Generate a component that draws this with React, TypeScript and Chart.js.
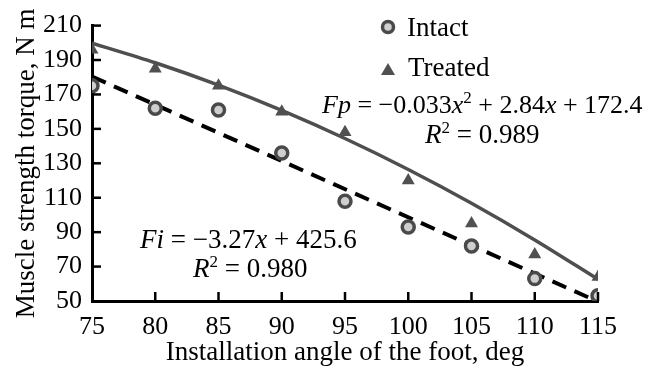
import React, { useEffect, useRef } from "react";
import { Chart, registerables } from "chart.js";
Chart.register(...registerables);

const angles = [75, 80, 85, 90, 95, 100, 105, 110, 115];
const intact = [175, 162, 161, 136, 108, 93, 82, 63, 53];
const treated = [196, 185, 175, 160, 148, 120, 95, 77, 64];
// trend lines
const intactTrendX = [75, 115];
const intactTrend = [180.4, 49.6];
const treatedTrend = [199.8, 188.4, 175.4, 160.7, 144.4, 126.4, 106.8, 85.5, 62.6];
const yTicks = [50, 70, 90, 110, 130, 150, 170, 190, 210];

const FONT = "'Liberation Serif', 'Times New Roman', serif";
const FS = 27;
const TICK_FS = 26;

type Seg = { t: string; i?: boolean; sup?: boolean };

function drawRich(ctx: CanvasRenderingContext2D, segs: Seg[], x: number, y: number, fs: number) {
  let cx = x;
  ctx.textBaseline = "alphabetic";
  ctx.textAlign = "left";
  for (const s of segs) {
    const size = s.sup ? Math.round(fs * 0.64) : fs;
    ctx.font = `${s.i ? "italic " : ""}${size}px ${FONT}`;
    const yy = s.sup ? y - fs * 0.38 : y;
    ctx.fillText(s.t, cx, yy);
    cx += ctx.measureText(s.t).width;
  }
}

const overlay = {
  id: "overlay",
  afterDraw(chart: any) {
    const ctx: CanvasRenderingContext2D = chart.ctx;
    const xs = chart.scales.x;
    const ys = chart.scales.y;
    const area = chart.chartArea;
    ctx.save();
    ctx.strokeStyle = "#000";
    ctx.lineWidth = 2.5;
    // inward ticks
    for (const v of angles) {
      if (v === 75) continue;
      const px = xs.getPixelForValue(v);
      ctx.beginPath();
      ctx.moveTo(px, area.bottom);
      ctx.lineTo(px, area.bottom - 9);
      ctx.stroke();
    }
    for (const v of yTicks) {
      if (v === 50) continue;
      const py = ys.getPixelForValue(v);
      ctx.beginPath();
      ctx.moveTo(area.left, py);
      ctx.lineTo(area.left + 9, py);
      ctx.stroke();
    }
    // legend
    ctx.beginPath();
    ctx.arc(388, 27, 5.5, 0, Math.PI * 2);
    ctx.fillStyle = "#cfcfcf";
    ctx.fill();
    ctx.lineWidth = 3.5;
    ctx.strokeStyle = "#4a4a4a";
    ctx.stroke();
    ctx.fillStyle = "#505050";
    ctx.beginPath();
    ctx.moveTo(388, 63);
    ctx.lineTo(395, 75);
    ctx.lineTo(381, 75);
    ctx.closePath();
    ctx.fill();
    ctx.fillStyle = "#000";
    ctx.font = `${FS}px ${FONT}`;
    ctx.textBaseline = "alphabetic";
    ctx.textAlign = "left";
    ctx.fillText("Intact", 407, 36);
    ctx.fillText("Treated", 408, 76);
    // equations
    drawRich(ctx, [
      { t: "Fp", i: true }, { t: " = \u22120.033" }, { t: "x", i: true }, { t: "2", sup: true },
      { t: " + 2.84" }, { t: "x", i: true }, { t: " + 172.4" },
    ], 322, 113, 26);
    drawRich(ctx, [{ t: "R", i: true }, { t: "2", sup: true }, { t: " = 0.989" }], 425, 143, FS);
    drawRich(ctx, [
      { t: "Fi", i: true }, { t: " = \u22123.27" }, { t: "x", i: true }, { t: " + 425.6" },
    ], 140, 248, FS);
    drawRich(ctx, [{ t: "R", i: true }, { t: "2", sup: true }, { t: " = 0.980" }], 193, 277, FS);
    ctx.restore();
  },
};

export default function App() {
  const ref = useRef<HTMLCanvasElement>(null);
  useEffect(() => {
    if (!ref.current) return;
    const chart = new Chart(ref.current, {
      type: "scatter",
      data: {
        datasets: [
          {
            label: "Treated fit",
            type: "line",
            data: angles.map((a, i) => ({ x: a, y: treatedTrend[i] })),
            borderColor: "#4f4f4f",
            borderWidth: 3.5,
            pointRadius: 0,
            cubicInterpolationMode: "monotone",
            order: 3,
          } as any,
          {
            label: "Intact fit",
            type: "line",
            data: intactTrendX.map((a, i) => ({ x: a, y: intactTrend[i] })),
            borderColor: "#000",
            borderWidth: 4,
            borderDash: [15, 9],
            pointRadius: 0,
            order: 2,
          } as any,
          {
            label: "Treated",
            data: angles.map((a, i) => ({ x: a, y: treated[i] })),
            pointStyle: "triangle",
            pointRadius: 7.5,
            backgroundColor: "#505050",
            borderColor: "#505050",
            borderWidth: 0,
            order: 1,
          },
          {
            label: "Intact",
            data: angles.map((a, i) => ({ x: a, y: intact[i] })),
            pointStyle: "circle",
            pointRadius: 6,
            backgroundColor: "#cfcfcf",
            borderColor: "#4a4a4a",
            borderWidth: 3.5,
            order: 0,
          },
        ],
      },
      options: {
        animation: false,
        responsive: false,
        layout: { padding: { top: 22, right: 57, left: 0, bottom: 0 } },
        plugins: { legend: { display: false }, tooltip: { enabled: false } },
        scales: {
          x: {
            type: "linear",
            min: 75,
            max: 115,
            afterBuildTicks: (s: any) => { s.ticks = angles.map((v) => ({ value: v })); },
            afterFit: (s: any) => { s.height = 71; },
            grid: { display: false, drawTicks: false },
            border: { display: true, color: "#000", width: 3 },
            ticks: { color: "#000", font: { family: FONT, size: TICK_FS }, padding: 11, maxRotation: 0 },
            title: {
              display: true,
              text: "Installation angle of the foot, deg",
              color: "#000",
              font: { family: FONT, size: FS },
              padding: { top: 0, bottom: 3 },
            },
          },
          y: {
            min: 50,
            max: 210,
            afterBuildTicks: (s: any) => { s.ticks = yTicks.map((v) => ({ value: v })); },
            afterFit: (s: any) => { s.width = 92; },
            grid: { display: false, drawTicks: false },
            border: { display: true, color: "#000", width: 3 },
            ticks: { color: "#000", font: { family: FONT, size: TICK_FS }, padding: 10 },
            title: {
              display: true,
              text: "Muscle strength torque, N m",
              color: "#000",
              font: { family: FONT, size: FS },
              padding: { top: 11, bottom: 0 },
            },
          },
        },
      },
      plugins: [overlay],
    } as any);
    return () => chart.destroy();
  }, []);
  return (
    <div style={{ position: "absolute", left: 0, top: 0, width: 655, height: 372, background: "#fff" }}>
      <canvas ref={ref} width={655} height={372} style={{ width: 655, height: 372 }} />
    </div>
  );
}
